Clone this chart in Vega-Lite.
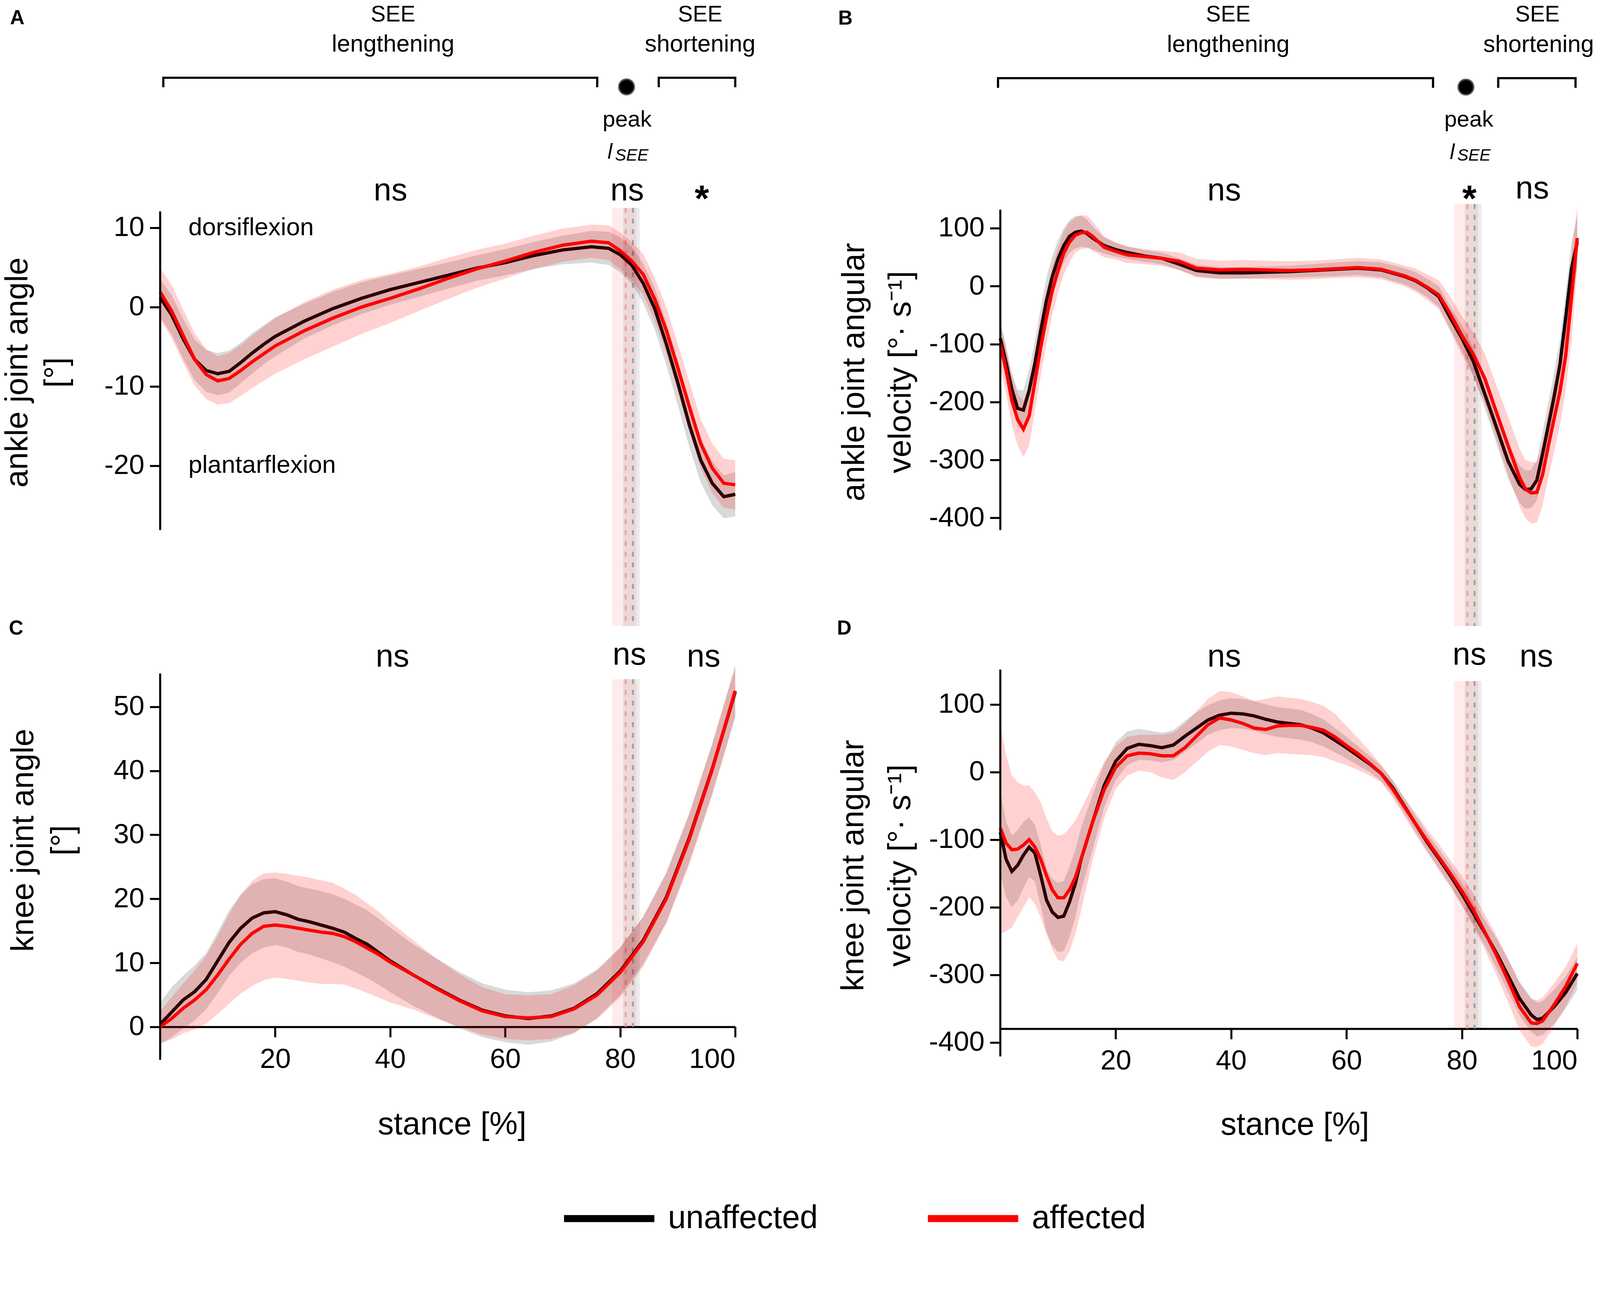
{
"$schema": "https://vega.github.io/schema/vega-lite/v6.json",
"padding": {"left": 4, "top": 0, "right": 0, "bottom": 0},
"background": "white",
"bounds": "flush",
"columns": 2,
"spacing": {"row": 0, "column": 677.8},
"datasets": {
"peaks": [{"g":"affected","lo":78.6,"hi":82.8,"m":80.95},{"g":"unaffected","lo":80.5,"hi":83.4,"m":82.2}],
"br": [
{"p":"A","b":"len","i":0,"x":0.55,"y":27.7},{"p":"A","b":"len","i":1,"x":0.55,"y":28.9},{"p":"A","b":"len","i":2,"x":76.0,"y":28.9},{"p":"A","b":"len","i":3,"x":76.0,"y":27.7},
{"p":"A","b":"sho","i":0,"x":86.7,"y":27.7},{"p":"A","b":"sho","i":1,"x":86.7,"y":28.9},{"p":"A","b":"sho","i":2,"x":100,"y":28.9},{"p":"A","b":"sho","i":3,"x":100,"y":27.7},
{"p":"B","b":"len","i":0,"x":-0.4,"y":342.3},{"p":"B","b":"len","i":1,"x":-0.4,"y":359},{"p":"B","b":"len","i":2,"x":75.0,"y":359},{"p":"B","b":"len","i":3,"x":75.0,"y":342.3},
{"p":"B","b":"sho","i":0,"x":86.3,"y":342.3},{"p":"B","b":"sho","i":1,"x":86.3,"y":359},{"p":"B","b":"sho","i":2,"x":99.7,"y":359},{"p":"B","b":"sho","i":3,"x":99.7,"y":342.3}
],
"t": [
{"p":"A","k":"see","t":"SEE","x":40.5,"y":36.0},
{"p":"A","k":"phase","t":"lengthening","x":40.5,"y":32.2},
{"p":"A","k":"see","t":"SEE","x":93.9,"y":36.0},
{"p":"A","k":"phase","t":"shortening","x":93.9,"y":32.2},
{"p":"A","k":"peak","t":"peak","x":81.2,"y":22.76},
{"p":"A","k":"l","t":"l","x":77.8,"y":18.7},
{"p":"A","k":"sub","t":"SEE","x":79.1,"y":18.46},
{"p":"A","k":"ns","t":"ns","x":40.05,"y":13.46},
{"p":"A","k":"ns","t":"ns","x":81.2,"y":13.46},
{"p":"A","k":"star","t":"*","x":94.2,"y":12.1},
{"p":"A","k":"dir","t":"dorsiflexion","x":4.9,"y":9.07},
{"p":"A","k":"dir","t":"plantarflexion","x":4.9,"y":-20.9},
{"p":"A","k":"letter","t":"A","x":-26.1,"y":35.65},
{"p":"A","k":"dot","t":"","x":81.1,"y":27.75},
{"p":"B","k":"see","t":"SEE","x":39.5,"y":456.8},
{"p":"B","k":"phase","t":"lengthening","x":39.5,"y":404.3},
{"p":"B","k":"see","t":"SEE","x":93.1,"y":456.8},
{"p":"B","k":"phase","t":"shortening","x":93.3,"y":404.3},
{"p":"B","k":"peak","t":"peak","x":81.2,"y":275.2},
{"p":"B","k":"l","t":"l","x":77.9,"y":219.6},
{"p":"B","k":"sub","t":"SEE","x":79.2,"y":216.4},
{"p":"B","k":"ns","t":"ns","x":38.8,"y":148.0},
{"p":"B","k":"star","t":"*","x":81.3,"y":130.0},
{"p":"B","k":"ns","t":"ns","x":92.2,"y":151.2},
{"p":"B","k":"letter","t":"B","x":-28.1,"y":451.7},
{"p":"B","k":"dot","t":"","x":80.7,"y":343.6},
{"p":"C","k":"ns","t":"ns","x":40.4,"y":56.25},
{"p":"C","k":"ns","t":"ns","x":81.6,"y":56.6},
{"p":"C","k":"ns","t":"ns","x":94.5,"y":56.25},
{"p":"C","k":"letter","t":"C","x":-26.3,"y":61.25},
{"p":"D","k":"ns","t":"ns","x":38.8,"y":155.7},
{"p":"D","k":"ns","t":"ns","x":81.3,"y":159.0},
{"p":"D","k":"ns","t":"ns","x":92.9,"y":155.7},
{"p":"D","k":"letter","t":"D","x":-28.3,"y":203}
],
"c": [
{"p":"A","g":"unaffected","x":0,"m":1.2,"lo":-1.3,"hi":3.5},
{"p":"A","g":"unaffected","x":2,"m":-1.0,"lo":-3.4,"hi":1.5},
{"p":"A","g":"unaffected","x":4,"m":-4.0,"lo":-6.5,"hi":-1.5},
{"p":"A","g":"unaffected","x":6,"m":-6.6,"lo":-9.2,"hi":-4.1},
{"p":"A","g":"unaffected","x":8,"m":-8.0,"lo":-10.7,"hi":-5.4},
{"p":"A","g":"unaffected","x":10,"m":-8.4,"lo":-11.1,"hi":-5.8},
{"p":"A","g":"unaffected","x":12,"m":-8.1,"lo":-10.8,"hi":-5.5},
{"p":"A","g":"unaffected","x":14,"m":-7.0,"lo":-9.6,"hi":-4.5},
{"p":"A","g":"unaffected","x":16,"m":-5.8,"lo":-8.4,"hi":-3.3},
{"p":"A","g":"unaffected","x":18,"m":-4.7,"lo":-7.2,"hi":-2.3},
{"p":"A","g":"unaffected","x":20,"m":-3.7,"lo":-6.2,"hi":-1.3},
{"p":"A","g":"unaffected","x":25,"m":-1.8,"lo":-4.0,"hi":0.4},
{"p":"A","g":"unaffected","x":30,"m":-0.2,"lo":-2.3,"hi":1.9},
{"p":"A","g":"unaffected","x":35,"m":1.1,"lo":-0.9,"hi":3.1},
{"p":"A","g":"unaffected","x":40,"m":2.2,"lo":0.3,"hi":4.0},
{"p":"A","g":"unaffected","x":45,"m":3.1,"lo":1.3,"hi":4.8},
{"p":"A","g":"unaffected","x":50,"m":4.0,"lo":2.3,"hi":5.6},
{"p":"A","g":"unaffected","x":55,"m":4.9,"lo":3.3,"hi":6.5},
{"p":"A","g":"unaffected","x":60,"m":5.6,"lo":4.0,"hi":7.3},
{"p":"A","g":"unaffected","x":65,"m":6.5,"lo":4.8,"hi":8.2},
{"p":"A","g":"unaffected","x":70,"m":7.2,"lo":5.4,"hi":9.0},
{"p":"A","g":"unaffected","x":75,"m":7.6,"lo":5.6,"hi":9.6},
{"p":"A","g":"unaffected","x":78,"m":7.4,"lo":5.3,"hi":9.5},
{"p":"A","g":"unaffected","x":80,"m":6.6,"lo":4.4,"hi":8.8},
{"p":"A","g":"unaffected","x":82,"m":5.3,"lo":3.0,"hi":7.6},
{"p":"A","g":"unaffected","x":84,"m":3.0,"lo":0.5,"hi":5.5},
{"p":"A","g":"unaffected","x":86,"m":-0.2,"lo":-2.8,"hi":2.4},
{"p":"A","g":"unaffected","x":88,"m":-4.6,"lo":-7.3,"hi":-1.9},
{"p":"A","g":"unaffected","x":90,"m":-9.5,"lo":-12.3,"hi":-6.7},
{"p":"A","g":"unaffected","x":92,"m":-14.8,"lo":-17.6,"hi":-12.0},
{"p":"A","g":"unaffected","x":94,"m":-19.3,"lo":-22.1,"hi":-16.5},
{"p":"A","g":"unaffected","x":96,"m":-22.2,"lo":-25.0,"hi":-19.4},
{"p":"A","g":"unaffected","x":98,"m":-23.9,"lo":-26.6,"hi":-21.2},
{"p":"A","g":"unaffected","x":100,"m":-23.6,"lo":-26.4,"hi":-20.8},
{"p":"A","g":"affected","x":0,"m":1.9,"lo":-1.6,"hi":4.9},
{"p":"A","g":"affected","x":2,"m":-0.5,"lo":-3.9,"hi":2.8},
{"p":"A","g":"affected","x":4,"m":-3.6,"lo":-7.0,"hi":-0.3},
{"p":"A","g":"affected","x":6,"m":-6.6,"lo":-9.9,"hi":-3.3},
{"p":"A","g":"affected","x":8,"m":-8.5,"lo":-11.6,"hi":-5.3},
{"p":"A","g":"affected","x":10,"m":-9.3,"lo":-12.3,"hi":-6.2},
{"p":"A","g":"affected","x":12,"m":-9.0,"lo":-12.1,"hi":-5.8},
{"p":"A","g":"affected","x":14,"m":-8.0,"lo":-11.2,"hi":-4.8},
{"p":"A","g":"affected","x":16,"m":-6.9,"lo":-10.2,"hi":-3.6},
{"p":"A","g":"affected","x":18,"m":-5.9,"lo":-9.3,"hi":-2.5},
{"p":"A","g":"affected","x":20,"m":-4.9,"lo":-8.4,"hi":-1.4},
{"p":"A","g":"affected","x":25,"m":-3.0,"lo":-6.6,"hi":0.6},
{"p":"A","g":"affected","x":30,"m":-1.4,"lo":-5.0,"hi":2.2},
{"p":"A","g":"affected","x":35,"m":0.0,"lo":-3.4,"hi":3.4},
{"p":"A","g":"affected","x":40,"m":1.1,"lo":-2.0,"hi":4.2},
{"p":"A","g":"affected","x":45,"m":2.3,"lo":-0.5,"hi":5.1},
{"p":"A","g":"affected","x":50,"m":3.6,"lo":1.0,"hi":6.2},
{"p":"A","g":"affected","x":55,"m":4.8,"lo":2.4,"hi":7.2},
{"p":"A","g":"affected","x":60,"m":5.8,"lo":3.6,"hi":8.0},
{"p":"A","g":"affected","x":65,"m":6.9,"lo":4.8,"hi":9.0},
{"p":"A","g":"affected","x":70,"m":7.8,"lo":5.7,"hi":9.9},
{"p":"A","g":"affected","x":75,"m":8.3,"lo":6.2,"hi":10.4},
{"p":"A","g":"affected","x":78,"m":8.1,"lo":5.9,"hi":10.3},
{"p":"A","g":"affected","x":80,"m":7.1,"lo":4.8,"hi":9.4},
{"p":"A","g":"affected","x":82,"m":5.8,"lo":3.4,"hi":8.2},
{"p":"A","g":"affected","x":84,"m":4.1,"lo":1.5,"hi":6.7},
{"p":"A","g":"affected","x":86,"m":1.0,"lo":-1.7,"hi":3.7},
{"p":"A","g":"affected","x":88,"m":-2.9,"lo":-5.8,"hi":0.0},
{"p":"A","g":"affected","x":90,"m":-7.6,"lo":-10.6,"hi":-4.6},
{"p":"A","g":"affected","x":92,"m":-12.5,"lo":-15.6,"hi":-9.4},
{"p":"A","g":"affected","x":94,"m":-17.2,"lo":-20.3,"hi":-14.1},
{"p":"A","g":"affected","x":96,"m":-20.3,"lo":-23.4,"hi":-17.2},
{"p":"A","g":"affected","x":98,"m":-22.2,"lo":-25.3,"hi":-19.1},
{"p":"A","g":"affected","x":100,"m":-22.4,"lo":-25.5,"hi":-19.3},
{"p":"B","g":"unaffected","x":0,"m":-90,"lo":-118,"hi":-62},
{"p":"B","g":"unaffected","x":1,"m":-132,"lo":-160,"hi":-104},
{"p":"B","g":"unaffected","x":2,"m":-178,"lo":-206,"hi":-150},
{"p":"B","g":"unaffected","x":3,"m":-211,"lo":-243,"hi":-179},
{"p":"B","g":"unaffected","x":4,"m":-214,"lo":-248,"hi":-180},
{"p":"B","g":"unaffected","x":5,"m":-180,"lo":-216,"hi":-144},
{"p":"B","g":"unaffected","x":6,"m":-133,"lo":-171,"hi":-95},
{"p":"B","g":"unaffected","x":7,"m":-77,"lo":-117,"hi":-37},
{"p":"B","g":"unaffected","x":8,"m":-25,"lo":-65,"hi":15},
{"p":"B","g":"unaffected","x":9,"m":16,"lo":-20,"hi":52},
{"p":"B","g":"unaffected","x":10,"m":47,"lo":15,"hi":79},
{"p":"B","g":"unaffected","x":11,"m":70,"lo":40,"hi":100},
{"p":"B","g":"unaffected","x":12,"m":86,"lo":58,"hi":114},
{"p":"B","g":"unaffected","x":13,"m":93,"lo":65,"hi":121},
{"p":"B","g":"unaffected","x":14,"m":95,"lo":68,"hi":122},
{"p":"B","g":"unaffected","x":15,"m":91,"lo":67,"hi":115},
{"p":"B","g":"unaffected","x":16,"m":83,"lo":63,"hi":103},
{"p":"B","g":"unaffected","x":18,"m":70,"lo":56,"hi":84},
{"p":"B","g":"unaffected","x":20,"m":63,"lo":51,"hi":75},
{"p":"B","g":"unaffected","x":22,"m":58,"lo":47,"hi":69},
{"p":"B","g":"unaffected","x":25,"m":52,"lo":42,"hi":62},
{"p":"B","g":"unaffected","x":28,"m":48,"lo":38,"hi":58},
{"p":"B","g":"unaffected","x":31,"m":38,"lo":28,"hi":48},
{"p":"B","g":"unaffected","x":34,"m":27,"lo":17,"hi":37},
{"p":"B","g":"unaffected","x":38,"m":23,"lo":13,"hi":33},
{"p":"B","g":"unaffected","x":42,"m":23,"lo":13,"hi":33},
{"p":"B","g":"unaffected","x":46,"m":24,"lo":14,"hi":34},
{"p":"B","g":"unaffected","x":50,"m":25,"lo":15,"hi":35},
{"p":"B","g":"unaffected","x":54,"m":27,"lo":16,"hi":38},
{"p":"B","g":"unaffected","x":58,"m":29,"lo":17,"hi":41},
{"p":"B","g":"unaffected","x":62,"m":31,"lo":19,"hi":43},
{"p":"B","g":"unaffected","x":66,"m":28,"lo":15,"hi":41},
{"p":"B","g":"unaffected","x":70,"m":17,"lo":3,"hi":31},
{"p":"B","g":"unaffected","x":72,"m":9,"lo":-6,"hi":24},
{"p":"B","g":"unaffected","x":74,"m":-3,"lo":-19,"hi":13},
{"p":"B","g":"unaffected","x":76,"m":-18,"lo":-36,"hi":0},
{"p":"B","g":"unaffected","x":78,"m":-55,"lo":-75,"hi":-35},
{"p":"B","g":"unaffected","x":80,"m":-90,"lo":-112,"hi":-68},
{"p":"B","g":"unaffected","x":82,"m":-130,"lo":-154,"hi":-106},
{"p":"B","g":"unaffected","x":84,"m":-187,"lo":-212,"hi":-162},
{"p":"B","g":"unaffected","x":86,"m":-244,"lo":-272,"hi":-216},
{"p":"B","g":"unaffected","x":88,"m":-302,"lo":-332,"hi":-272},
{"p":"B","g":"unaffected","x":90,"m":-342,"lo":-374,"hi":-310},
{"p":"B","g":"unaffected","x":91,"m":-351,"lo":-384,"hi":-318},
{"p":"B","g":"unaffected","x":92,"m":-350,"lo":-383,"hi":-317},
{"p":"B","g":"unaffected","x":93,"m":-335,"lo":-370,"hi":-300},
{"p":"B","g":"unaffected","x":94,"m":-289,"lo":-327,"hi":-251},
{"p":"B","g":"unaffected","x":95,"m":-240,"lo":-280,"hi":-200},
{"p":"B","g":"unaffected","x":96,"m":-190,"lo":-232,"hi":-148},
{"p":"B","g":"unaffected","x":97,"m":-135,"lo":-178,"hi":-92},
{"p":"B","g":"unaffected","x":98,"m":-55,"lo":-100,"hi":-10},
{"p":"B","g":"unaffected","x":99,"m":30,"lo":-15,"hi":75},
{"p":"B","g":"unaffected","x":100,"m":76,"lo":30,"hi":122},
{"p":"B","g":"affected","x":0,"m":-100,"lo":-138,"hi":-62},
{"p":"B","g":"affected","x":1,"m":-145,"lo":-185,"hi":-105},
{"p":"B","g":"affected","x":2,"m":-198,"lo":-240,"hi":-156},
{"p":"B","g":"affected","x":3,"m":-230,"lo":-275,"hi":-185},
{"p":"B","g":"affected","x":4,"m":-247,"lo":-295,"hi":-199},
{"p":"B","g":"affected","x":5,"m":-224,"lo":-275,"hi":-173},
{"p":"B","g":"affected","x":6,"m":-165,"lo":-215,"hi":-115},
{"p":"B","g":"affected","x":7,"m":-106,"lo":-155,"hi":-57},
{"p":"B","g":"affected","x":8,"m":-54,"lo":-100,"hi":-8},
{"p":"B","g":"affected","x":9,"m":-8,"lo":-50,"hi":34},
{"p":"B","g":"affected","x":10,"m":27,"lo":-12,"hi":66},
{"p":"B","g":"affected","x":11,"m":57,"lo":20,"hi":94},
{"p":"B","g":"affected","x":12,"m":76,"lo":42,"hi":110},
{"p":"B","g":"affected","x":13,"m":88,"lo":58,"hi":118},
{"p":"B","g":"affected","x":14,"m":92,"lo":64,"hi":122},
{"p":"B","g":"affected","x":15,"m":93,"lo":66,"hi":122},
{"p":"B","g":"affected","x":16,"m":86,"lo":62,"hi":112},
{"p":"B","g":"affected","x":18,"m":67,"lo":50,"hi":86},
{"p":"B","g":"affected","x":20,"m":60,"lo":46,"hi":75},
{"p":"B","g":"affected","x":22,"m":54,"lo":40,"hi":68},
{"p":"B","g":"affected","x":25,"m":51,"lo":38,"hi":64},
{"p":"B","g":"affected","x":28,"m":48,"lo":35,"hi":61},
{"p":"B","g":"affected","x":31,"m":43,"lo":28,"hi":58},
{"p":"B","g":"affected","x":34,"m":31,"lo":15,"hi":47},
{"p":"B","g":"affected","x":38,"m":28,"lo":12,"hi":44},
{"p":"B","g":"affected","x":42,"m":29,"lo":13,"hi":45},
{"p":"B","g":"affected","x":46,"m":28,"lo":12,"hi":44},
{"p":"B","g":"affected","x":50,"m":27,"lo":11,"hi":43},
{"p":"B","g":"affected","x":54,"m":28,"lo":12,"hi":44},
{"p":"B","g":"affected","x":58,"m":30,"lo":14,"hi":46},
{"p":"B","g":"affected","x":62,"m":32,"lo":15,"hi":49},
{"p":"B","g":"affected","x":66,"m":29,"lo":12,"hi":46},
{"p":"B","g":"affected","x":70,"m":18,"lo":0,"hi":36},
{"p":"B","g":"affected","x":72,"m":10,"lo":-10,"hi":30},
{"p":"B","g":"affected","x":74,"m":-2,"lo":-24,"hi":20},
{"p":"B","g":"affected","x":76,"m":-15,"lo":-40,"hi":10},
{"p":"B","g":"affected","x":78,"m":-48,"lo":-78,"hi":-18},
{"p":"B","g":"affected","x":80,"m":-85,"lo":-118,"hi":-52},
{"p":"B","g":"affected","x":82,"m":-118,"lo":-156,"hi":-80},
{"p":"B","g":"affected","x":84,"m":-160,"lo":-203,"hi":-117},
{"p":"B","g":"affected","x":86,"m":-218,"lo":-264,"hi":-172},
{"p":"B","g":"affected","x":88,"m":-275,"lo":-325,"hi":-225},
{"p":"B","g":"affected","x":90,"m":-330,"lo":-380,"hi":-280},
{"p":"B","g":"affected","x":91,"m":-350,"lo":-400,"hi":-300},
{"p":"B","g":"affected","x":92,"m":-357,"lo":-410,"hi":-304},
{"p":"B","g":"affected","x":93,"m":-356,"lo":-408,"hi":-304},
{"p":"B","g":"affected","x":94,"m":-325,"lo":-378,"hi":-272},
{"p":"B","g":"affected","x":95,"m":-275,"lo":-330,"hi":-220},
{"p":"B","g":"affected","x":96,"m":-228,"lo":-285,"hi":-171},
{"p":"B","g":"affected","x":97,"m":-182,"lo":-240,"hi":-124},
{"p":"B","g":"affected","x":98,"m":-120,"lo":-180,"hi":-60},
{"p":"B","g":"affected","x":99,"m":-20,"lo":-95,"hi":55},
{"p":"B","g":"affected","x":100,"m":83,"lo":30,"hi":136},
{"p":"C","g":"unaffected","x":0,"m":0.4,"lo":-2.8,"hi":3.8},
{"p":"C","g":"unaffected","x":2,"m":2.3,"lo":-1.6,"hi":6.2},
{"p":"C","g":"unaffected","x":4,"m":4.2,"lo":-0.3,"hi":8.0},
{"p":"C","g":"unaffected","x":6,"m":5.5,"lo":1.0,"hi":9.6},
{"p":"C","g":"unaffected","x":8,"m":7.4,"lo":2.8,"hi":11.5},
{"p":"C","g":"unaffected","x":10,"m":10.3,"lo":5.3,"hi":14.8},
{"p":"C","g":"unaffected","x":12,"m":13.2,"lo":8.0,"hi":18.2},
{"p":"C","g":"unaffected","x":14,"m":15.4,"lo":10.0,"hi":20.6},
{"p":"C","g":"unaffected","x":16,"m":17.0,"lo":11.5,"hi":22.3},
{"p":"C","g":"unaffected","x":18,"m":17.8,"lo":12.4,"hi":23.1},
{"p":"C","g":"unaffected","x":20,"m":18.0,"lo":12.8,"hi":23.2},
{"p":"C","g":"unaffected","x":22,"m":17.5,"lo":12.4,"hi":22.7},
{"p":"C","g":"unaffected","x":24,"m":16.8,"lo":11.7,"hi":22.0},
{"p":"C","g":"unaffected","x":26,"m":16.4,"lo":11.3,"hi":21.6},
{"p":"C","g":"unaffected","x":28,"m":15.9,"lo":10.7,"hi":21.2},
{"p":"C","g":"unaffected","x":30,"m":15.4,"lo":10.1,"hi":20.7},
{"p":"C","g":"unaffected","x":32,"m":14.8,"lo":9.4,"hi":20.0},
{"p":"C","g":"unaffected","x":34,"m":13.8,"lo":8.5,"hi":19.1},
{"p":"C","g":"unaffected","x":36,"m":12.9,"lo":7.6,"hi":18.2},
{"p":"C","g":"unaffected","x":38,"m":11.6,"lo":6.6,"hi":16.9},
{"p":"C","g":"unaffected","x":40,"m":10.3,"lo":5.4,"hi":15.5},
{"p":"C","g":"unaffected","x":44,"m":8.1,"lo":3.3,"hi":12.9},
{"p":"C","g":"unaffected","x":48,"m":6.1,"lo":1.5,"hi":10.7},
{"p":"C","g":"unaffected","x":52,"m":4.2,"lo":-0.2,"hi":8.6},
{"p":"C","g":"unaffected","x":56,"m":2.6,"lo":-1.6,"hi":6.8},
{"p":"C","g":"unaffected","x":60,"m":1.7,"lo":-2.4,"hi":5.8},
{"p":"C","g":"unaffected","x":64,"m":1.3,"lo":-2.8,"hi":5.4},
{"p":"C","g":"unaffected","x":68,"m":1.7,"lo":-2.3,"hi":5.7},
{"p":"C","g":"unaffected","x":72,"m":2.9,"lo":-1.0,"hi":6.8},
{"p":"C","g":"unaffected","x":76,"m":5.2,"lo":1.4,"hi":9.0},
{"p":"C","g":"unaffected","x":80,"m":8.7,"lo":5.0,"hi":12.4},
{"p":"C","g":"unaffected","x":84,"m":13.5,"lo":9.8,"hi":17.2},
{"p":"C","g":"unaffected","x":88,"m":20.2,"lo":16.3,"hi":24.1},
{"p":"C","g":"unaffected","x":92,"m":29.5,"lo":25.7,"hi":33.3},
{"p":"C","g":"unaffected","x":96,"m":40.3,"lo":36.4,"hi":44.2},
{"p":"C","g":"unaffected","x":100,"m":52.3,"lo":48.4,"hi":56.2},
{"p":"C","g":"affected","x":0,"m":0.0,"lo":-2.5,"hi":2.5},
{"p":"C","g":"affected","x":2,"m":1.3,"lo":-2.0,"hi":4.6},
{"p":"C","g":"affected","x":4,"m":2.9,"lo":-1.0,"hi":6.8},
{"p":"C","g":"affected","x":6,"m":4.2,"lo":-0.4,"hi":8.8},
{"p":"C","g":"affected","x":8,"m":5.8,"lo":0.5,"hi":11.1},
{"p":"C","g":"affected","x":10,"m":8.1,"lo":2.0,"hi":14.2},
{"p":"C","g":"affected","x":12,"m":10.6,"lo":3.6,"hi":17.6},
{"p":"C","g":"affected","x":14,"m":12.9,"lo":5.2,"hi":20.6},
{"p":"C","g":"affected","x":16,"m":14.6,"lo":6.4,"hi":22.8},
{"p":"C","g":"affected","x":18,"m":15.7,"lo":7.3,"hi":24.0},
{"p":"C","g":"affected","x":20,"m":15.9,"lo":7.7,"hi":24.1},
{"p":"C","g":"affected","x":22,"m":15.7,"lo":7.5,"hi":23.9},
{"p":"C","g":"affected","x":24,"m":15.4,"lo":7.2,"hi":23.6},
{"p":"C","g":"affected","x":26,"m":15.1,"lo":6.9,"hi":23.3},
{"p":"C","g":"affected","x":28,"m":14.8,"lo":6.7,"hi":22.9},
{"p":"C","g":"affected","x":30,"m":14.6,"lo":6.7,"hi":22.5},
{"p":"C","g":"affected","x":32,"m":14.1,"lo":6.6,"hi":21.6},
{"p":"C","g":"affected","x":34,"m":13.3,"lo":6.0,"hi":20.6},
{"p":"C","g":"affected","x":36,"m":12.3,"lo":5.3,"hi":19.3},
{"p":"C","g":"affected","x":38,"m":11.3,"lo":4.6,"hi":18.0},
{"p":"C","g":"affected","x":40,"m":10.1,"lo":3.8,"hi":16.4},
{"p":"C","g":"affected","x":44,"m":8.1,"lo":2.7,"hi":13.5},
{"p":"C","g":"affected","x":48,"m":6.0,"lo":1.3,"hi":10.7},
{"p":"C","g":"affected","x":52,"m":4.1,"lo":0.0,"hi":8.2},
{"p":"C","g":"affected","x":56,"m":2.5,"lo":-1.2,"hi":6.2},
{"p":"C","g":"affected","x":60,"m":1.6,"lo":-1.9,"hi":5.1},
{"p":"C","g":"affected","x":64,"m":1.4,"lo":-2.1,"hi":4.9},
{"p":"C","g":"affected","x":68,"m":1.6,"lo":-1.9,"hi":5.1},
{"p":"C","g":"affected","x":72,"m":2.8,"lo":-0.9,"hi":6.5},
{"p":"C","g":"affected","x":76,"m":5.0,"lo":1.2,"hi":8.8},
{"p":"C","g":"affected","x":80,"m":8.5,"lo":4.6,"hi":12.4},
{"p":"C","g":"affected","x":84,"m":13.3,"lo":9.4,"hi":17.2},
{"p":"C","g":"affected","x":88,"m":20.0,"lo":16.1,"hi":23.9},
{"p":"C","g":"affected","x":92,"m":29.3,"lo":25.3,"hi":33.3},
{"p":"C","g":"affected","x":96,"m":40.2,"lo":36.2,"hi":44.2},
{"p":"C","g":"affected","x":100,"m":52.5,"lo":48.5,"hi":56.5},
{"p":"D","g":"unaffected","x":0,"m":-89,"lo":-150,"hi":-28},
{"p":"D","g":"unaffected","x":1,"m":-129,"lo":-185,"hi":-73},
{"p":"D","g":"unaffected","x":2,"m":-147,"lo":-200,"hi":-94},
{"p":"D","g":"unaffected","x":3,"m":-138,"lo":-190,"hi":-86},
{"p":"D","g":"unaffected","x":4,"m":-123,"lo":-172,"hi":-74},
{"p":"D","g":"unaffected","x":5,"m":-111,"lo":-155,"hi":-67},
{"p":"D","g":"unaffected","x":6,"m":-120,"lo":-162,"hi":-78},
{"p":"D","g":"unaffected","x":7,"m":-153,"lo":-198,"hi":-108},
{"p":"D","g":"unaffected","x":8,"m":-189,"lo":-236,"hi":-142},
{"p":"D","g":"unaffected","x":9,"m":-207,"lo":-256,"hi":-158},
{"p":"D","g":"unaffected","x":10,"m":-215,"lo":-266,"hi":-164},
{"p":"D","g":"unaffected","x":11,"m":-213,"lo":-265,"hi":-161},
{"p":"D","g":"unaffected","x":12,"m":-192,"lo":-244,"hi":-140},
{"p":"D","g":"unaffected","x":13,"m":-165,"lo":-215,"hi":-115},
{"p":"D","g":"unaffected","x":14,"m":-129,"lo":-176,"hi":-82},
{"p":"D","g":"unaffected","x":16,"m":-74,"lo":-114,"hi":-34},
{"p":"D","g":"unaffected","x":18,"m":-20,"lo":-52,"hi":12},
{"p":"D","g":"unaffected","x":20,"m":16,"lo":-12,"hi":44},
{"p":"D","g":"unaffected","x":22,"m":35,"lo":10,"hi":60},
{"p":"D","g":"unaffected","x":24,"m":41,"lo":18,"hi":64},
{"p":"D","g":"unaffected","x":26,"m":39,"lo":17,"hi":61},
{"p":"D","g":"unaffected","x":28,"m":36,"lo":14,"hi":58},
{"p":"D","g":"unaffected","x":30,"m":40,"lo":18,"hi":62},
{"p":"D","g":"unaffected","x":32,"m":53,"lo":30,"hi":76},
{"p":"D","g":"unaffected","x":34,"m":65,"lo":42,"hi":88},
{"p":"D","g":"unaffected","x":36,"m":77,"lo":55,"hi":99},
{"p":"D","g":"unaffected","x":38,"m":84,"lo":62,"hi":106},
{"p":"D","g":"unaffected","x":40,"m":87,"lo":65,"hi":109},
{"p":"D","g":"unaffected","x":42,"m":86,"lo":64,"hi":108},
{"p":"D","g":"unaffected","x":44,"m":83,"lo":61,"hi":105},
{"p":"D","g":"unaffected","x":46,"m":78,"lo":56,"hi":100},
{"p":"D","g":"unaffected","x":48,"m":74,"lo":52,"hi":96},
{"p":"D","g":"unaffected","x":50,"m":72,"lo":50,"hi":94},
{"p":"D","g":"unaffected","x":52,"m":70,"lo":48,"hi":92},
{"p":"D","g":"unaffected","x":54,"m":65,"lo":44,"hi":86},
{"p":"D","g":"unaffected","x":56,"m":58,"lo":38,"hi":78},
{"p":"D","g":"unaffected","x":58,"m":47,"lo":29,"hi":65},
{"p":"D","g":"unaffected","x":60,"m":36,"lo":20,"hi":52},
{"p":"D","g":"unaffected","x":62,"m":24,"lo":10,"hi":38},
{"p":"D","g":"unaffected","x":64,"m":12,"lo":0,"hi":24},
{"p":"D","g":"unaffected","x":66,"m":-2,"lo":-13,"hi":9},
{"p":"D","g":"unaffected","x":68,"m":-23,"lo":-34,"hi":-12},
{"p":"D","g":"unaffected","x":70,"m":-50,"lo":-61,"hi":-39},
{"p":"D","g":"unaffected","x":72,"m":-77,"lo":-89,"hi":-65},
{"p":"D","g":"unaffected","x":74,"m":-104,"lo":-117,"hi":-91},
{"p":"D","g":"unaffected","x":76,"m":-128,"lo":-142,"hi":-114},
{"p":"D","g":"unaffected","x":78,"m":-153,"lo":-168,"hi":-138},
{"p":"D","g":"unaffected","x":80,"m":-180,"lo":-196,"hi":-164},
{"p":"D","g":"unaffected","x":82,"m":-209,"lo":-226,"hi":-192},
{"p":"D","g":"unaffected","x":84,"m":-238,"lo":-257,"hi":-219},
{"p":"D","g":"unaffected","x":86,"m":-268,"lo":-290,"hi":-246},
{"p":"D","g":"unaffected","x":88,"m":-301,"lo":-325,"hi":-277},
{"p":"D","g":"unaffected","x":90,"m":-335,"lo":-360,"hi":-310},
{"p":"D","g":"unaffected","x":92,"m":-359,"lo":-384,"hi":-334},
{"p":"D","g":"unaffected","x":93,"m":-366,"lo":-391,"hi":-341},
{"p":"D","g":"unaffected","x":94,"m":-364,"lo":-389,"hi":-339},
{"p":"D","g":"unaffected","x":96,"m":-347,"lo":-372,"hi":-322},
{"p":"D","g":"unaffected","x":98,"m":-326,"lo":-350,"hi":-302},
{"p":"D","g":"unaffected","x":100,"m":-298,"lo":-322,"hi":-274},
{"p":"D","g":"affected","x":0,"m":-83,"lo":-240,"hi":70},
{"p":"D","g":"affected","x":1,"m":-105,"lo":-235,"hi":25},
{"p":"D","g":"affected","x":2,"m":-115,"lo":-230,"hi":-5},
{"p":"D","g":"affected","x":3,"m":-114,"lo":-215,"hi":-15},
{"p":"D","g":"affected","x":4,"m":-108,"lo":-200,"hi":-20},
{"p":"D","g":"affected","x":5,"m":-100,"lo":-185,"hi":-20},
{"p":"D","g":"affected","x":6,"m":-111,"lo":-195,"hi":-30},
{"p":"D","g":"affected","x":7,"m":-129,"lo":-215,"hi":-45},
{"p":"D","g":"affected","x":8,"m":-153,"lo":-240,"hi":-68},
{"p":"D","g":"affected","x":9,"m":-174,"lo":-262,"hi":-88},
{"p":"D","g":"affected","x":10,"m":-186,"lo":-278,"hi":-94},
{"p":"D","g":"affected","x":11,"m":-186,"lo":-280,"hi":-92},
{"p":"D","g":"affected","x":12,"m":-174,"lo":-265,"hi":-83},
{"p":"D","g":"affected","x":13,"m":-156,"lo":-240,"hi":-72},
{"p":"D","g":"affected","x":14,"m":-129,"lo":-205,"hi":-55},
{"p":"D","g":"affected","x":16,"m":-74,"lo":-130,"hi":-20},
{"p":"D","g":"affected","x":18,"m":-26,"lo":-68,"hi":15},
{"p":"D","g":"affected","x":20,"m":7,"lo":-25,"hi":38},
{"p":"D","g":"affected","x":22,"m":24,"lo":-5,"hi":52},
{"p":"D","g":"affected","x":24,"m":28,"lo":2,"hi":55},
{"p":"D","g":"affected","x":26,"m":27,"lo":0,"hi":55},
{"p":"D","g":"affected","x":28,"m":24,"lo":-8,"hi":55},
{"p":"D","g":"affected","x":30,"m":24,"lo":-12,"hi":58},
{"p":"D","g":"affected","x":32,"m":36,"lo":0,"hi":72},
{"p":"D","g":"affected","x":34,"m":53,"lo":15,"hi":90},
{"p":"D","g":"affected","x":36,"m":70,"lo":30,"hi":108},
{"p":"D","g":"affected","x":38,"m":80,"lo":40,"hi":120},
{"p":"D","g":"affected","x":40,"m":77,"lo":38,"hi":118},
{"p":"D","g":"affected","x":42,"m":72,"lo":33,"hi":112},
{"p":"D","g":"affected","x":44,"m":65,"lo":28,"hi":105},
{"p":"D","g":"affected","x":46,"m":63,"lo":25,"hi":108},
{"p":"D","g":"affected","x":48,"m":68,"lo":28,"hi":112},
{"p":"D","g":"affected","x":50,"m":69,"lo":27,"hi":110},
{"p":"D","g":"affected","x":52,"m":69,"lo":26,"hi":108},
{"p":"D","g":"affected","x":54,"m":66,"lo":25,"hi":104},
{"p":"D","g":"affected","x":56,"m":62,"lo":22,"hi":98},
{"p":"D","g":"affected","x":58,"m":52,"lo":16,"hi":86},
{"p":"D","g":"affected","x":60,"m":39,"lo":10,"hi":68},
{"p":"D","g":"affected","x":62,"m":27,"lo":3,"hi":50},
{"p":"D","g":"affected","x":64,"m":13,"lo":-5,"hi":31},
{"p":"D","g":"affected","x":66,"m":-2,"lo":-15,"hi":11},
{"p":"D","g":"affected","x":68,"m":-25,"lo":-38,"hi":-12},
{"p":"D","g":"affected","x":70,"m":-51,"lo":-65,"hi":-37},
{"p":"D","g":"affected","x":72,"m":-77,"lo":-93,"hi":-61},
{"p":"D","g":"affected","x":74,"m":-102,"lo":-119,"hi":-85},
{"p":"D","g":"affected","x":76,"m":-126,"lo":-145,"hi":-107},
{"p":"D","g":"affected","x":78,"m":-150,"lo":-170,"hi":-130},
{"p":"D","g":"affected","x":80,"m":-176,"lo":-198,"hi":-154},
{"p":"D","g":"affected","x":82,"m":-204,"lo":-228,"hi":-180},
{"p":"D","g":"affected","x":84,"m":-237,"lo":-263,"hi":-211},
{"p":"D","g":"affected","x":86,"m":-271,"lo":-300,"hi":-242},
{"p":"D","g":"affected","x":88,"m":-308,"lo":-340,"hi":-276},
{"p":"D","g":"affected","x":90,"m":-347,"lo":-382,"hi":-312},
{"p":"D","g":"affected","x":92,"m":-371,"lo":-406,"hi":-336},
{"p":"D","g":"affected","x":93,"m":-372,"lo":-407,"hi":-337},
{"p":"D","g":"affected","x":94,"m":-368,"lo":-402,"hi":-334},
{"p":"D","g":"affected","x":96,"m":-344,"lo":-376,"hi":-312},
{"p":"D","g":"affected","x":98,"m":-317,"lo":-346,"hi":-288},
{"p":"D","g":"affected","x":100,"m":-283,"lo":-312,"hi":-254}
]
},
"concat": [
{
"width": 1472.2, "height": 1602.1,
"layer": [
{"data":{"name":"peaks"},"mark":{"type":"rect","opacity":0.08},
 "encoding":{
  "x":{"field":"lo","type":"quantitative","scale":{"domain":[0,100],"nice":false,"zero":false},"axis":null},
  "x2":{"field":"hi"},
  "y":{"datum":12.5,"type":"quantitative","scale":{"domain":[-40.2,38.7],"nice":false,"zero":false},
       "axis":{"values":[-20,-10,0,10],"domain":false,"title":["ankle joint angle","[°]"],"titleX":-340.1,"titleY":952.7,"titleAngle":-90,"titleAlign":"center","titleBaseline":"alphabetic","titleLineHeight":99.5,"labelExpr":"''+datum.value"}},
  "y2":{"datum":-40.2},
  "fill":{"field":"g","type":"nominal","scale":{"domain":["affected","unaffected"],"range":["#ff0000","#000000"]},"legend":null}}},
{"data":{"name":"peaks"},"mark":{"type":"rule","strokeWidth":4.7,"strokeDash":[12.3,15.2]},
 "encoding":{"x":{"field":"m","type":"quantitative","axis":null},"y":{"datum":12.5,"type":"quantitative"},"y2":{"datum":-40.2},
  "stroke":{"field":"g","type":"nominal","scale":{"domain":["affected","unaffected"],"range":["#f29c9c","#9e9e9e"]},"legend":null}}},
{"data":{"name":"c"},"transform":[{"filter":"datum.p=='A'&&datum.g=='unaffected'"}],"mark":{"type":"area","fill":"#000000","fillOpacity":0.15},
 "encoding":{"x":{"field":"x","type":"quantitative","axis":null},"y":{"field":"lo","type":"quantitative"},"y2":{"field":"hi"}}},
{"data":{"name":"c"},"transform":[{"filter":"datum.p=='A'&&datum.g=='unaffected'"}],"mark":{"type":"line","strokeWidth":8.5},
 "encoding":{"x":{"field":"x","type":"quantitative","axis":null},"y":{"field":"m","type":"quantitative"},
  "color":{"field":"g","type":"nominal","scale":{"domain":["unaffected","affected"],"range":["#000000","#ff0000"]},
   "legend":{"title":null,"orient":"none","legendX":1108.3,"legendY":3077,"direction":"horizontal","symbolType":"M-5,0H5","symbolSize":2140,"symbolStrokeWidth":18,"labelFontSize":82.5,"labelLimit":1000,"labelOffset":109.1,"columnPadding":244.5,"padding":0,"labelColor":"#000000","labelFont":"Liberation Sans","symbolOpacity":1}}}},
{"data":{"name":"c"},"transform":[{"filter":"datum.p=='A'&&datum.g=='affected'"}],"mark":{"type":"area","fill":"#ff0000","fillOpacity":0.18},
 "encoding":{"x":{"field":"x","type":"quantitative","axis":null},"y":{"field":"lo","type":"quantitative"},"y2":{"field":"hi"}}},
{"data":{"name":"c"},"transform":[{"filter":"datum.p=='A'&&datum.g=='affected'"}],"mark":{"type":"line","strokeWidth":8.5},
 "encoding":{"x":{"field":"x","type":"quantitative","axis":null},"y":{"field":"m","type":"quantitative"},
  "color":{"field":"g","type":"nominal","scale":{"domain":["unaffected","affected"],"range":["#000000","#ff0000"]},
   "legend":{"title":null,"orient":"none","legendX":1108.3,"legendY":3077,"direction":"horizontal","symbolType":"M-5,0H5","symbolSize":2140,"symbolStrokeWidth":18,"labelFontSize":82.5,"labelLimit":1000,"labelOffset":109.1,"columnPadding":244.5,"padding":0,"labelColor":"#000000","labelFont":"Liberation Sans","symbolOpacity":1}}}},
{"data":{"values":[{}]},"mark":{"type":"rule","color":"#000000","strokeWidth":5.2},
 "encoding":{"x":{"datum":0,"type":"quantitative","axis":null},"y":{"datum":-28.1,"type":"quantitative"},"y2":{"datum":12.06}}},
{"data":{"name":"br"},"transform":[{"filter":"datum.p=='A'"}],"mark":{"type":"line","color":"#000000","strokeWidth":5.7,"strokeJoin":"miter"},
 "encoding":{"x":{"field":"x","type":"quantitative","axis":null},"y":{"field":"y","type":"quantitative"},"detail":{"field":"b"},"order":{"field":"i"}}},
{"data":{"name":"t"},"transform":[{"filter":"datum.p=='A'&&datum.k=='dot'"}],"mark":{"type":"circle","fill":"#000000","stroke":"#555555","strokeWidth":3.8,"size":1559,"opacity":1},
 "encoding":{"x":{"field":"x","type":"quantitative","axis":null},"y":{"field":"y","type":"quantitative"}}},
{"data":{"name":"t"},"transform":[{"filter":"datum.p=='A'&&datum.k=='see'"}],"mark":{"type":"text","fontSize":56.9,"align":"center","baseline":"alphabetic"},
 "encoding":{"x":{"field":"x","type":"quantitative","axis":null},"y":{"field":"y","type":"quantitative"},"text":{"field":"t"}}},
{"data":{"name":"t"},"transform":[{"filter":"datum.p=='A'&&datum.k=='phase'"}],"mark":{"type":"text","fontSize":60.7,"align":"center","baseline":"alphabetic"},
 "encoding":{"x":{"field":"x","type":"quantitative","axis":null},"y":{"field":"y","type":"quantitative"},"text":{"field":"t"}}},
{"data":{"name":"t"},"transform":[{"filter":"datum.p=='A'&&datum.k=='peak'"}],"mark":{"type":"text","fontSize":57.8,"align":"center","baseline":"alphabetic"},
 "encoding":{"x":{"field":"x","type":"quantitative","axis":null},"y":{"field":"y","type":"quantitative"},"text":{"field":"t"}}},
{"data":{"name":"t"},"transform":[{"filter":"datum.p=='A'&&datum.k=='l'"}],"mark":{"type":"text","fontSize":55,"fontStyle":"italic","align":"left","baseline":"alphabetic"},
 "encoding":{"x":{"field":"x","type":"quantitative","axis":null},"y":{"field":"y","type":"quantitative"},"text":{"field":"t"}}},
{"data":{"name":"t"},"transform":[{"filter":"datum.p=='A'&&datum.k=='sub'"}],"mark":{"type":"text","fontSize":42.7,"fontStyle":"italic","align":"left","baseline":"alphabetic"},
 "encoding":{"x":{"field":"x","type":"quantitative","axis":null},"y":{"field":"y","type":"quantitative"},"text":{"field":"t"}}},
{"data":{"name":"t"},"transform":[{"filter":"datum.p=='A'&&datum.k=='ns'"}],"mark":{"type":"text","fontSize":81.5,"align":"center","baseline":"alphabetic"},
 "encoding":{"x":{"field":"x","type":"quantitative","axis":null},"y":{"field":"y","type":"quantitative"},"text":{"field":"t"}}},
{"data":{"name":"t"},"transform":[{"filter":"datum.p=='A'&&datum.k=='star'"}],"mark":{"type":"text","fontSize":94.8,"fontWeight":"bold","align":"center","baseline":"alphabetic"},
 "encoding":{"x":{"field":"x","type":"quantitative","axis":null},"y":{"field":"y","type":"quantitative"},"text":{"field":"t"}}},
{"data":{"name":"t"},"transform":[{"filter":"datum.p=='A'&&datum.k=='dir'"}],"mark":{"type":"text","fontSize":63.5,"align":"left","baseline":"alphabetic"},
 "encoding":{"x":{"field":"x","type":"quantitative","axis":null},"y":{"field":"y","type":"quantitative"},"text":{"field":"t"}}},
{"data":{"name":"t"},"transform":[{"filter":"datum.p=='A'&&datum.k=='letter'"}],"mark":{"type":"text","fontSize":51.2,"fontWeight":"bold","align":"left","baseline":"alphabetic"},
 "encoding":{"x":{"field":"x","type":"quantitative","axis":null},"y":{"field":"y","type":"quantitative"},"text":{"field":"t"}}}
]
},
{
"width": 1477.0, "height": 1602.1,
"layer": [
{"data":{"name":"peaks"},"mark":{"type":"rect","opacity":0.08},
 "encoding":{
  "x":{"field":"lo","type":"quantitative","scale":{"domain":[0,100],"nice":false,"zero":false},"axis":null},
  "x2":{"field":"hi"},
  "y":{"datum":141.6,"type":"quantitative","scale":{"domain":[-586.7,493.9],"nice":false,"zero":false},
       "axis":{"values":[-400,-300,-200,-100,0,100],"domain":false,"title":["ankle joint angular","velocity [°· s⁻¹]"],"titleX":-348.9,"titleY":951.8,"titleAngle":-90,"titleAlign":"center","titleBaseline":"alphabetic","titleLineHeight":118.5,"labelExpr":"''+datum.value"}},
  "y2":{"datum":-586.7},
  "fill":{"field":"g","type":"nominal","scale":{"domain":["affected","unaffected"],"range":["#ff0000","#000000"]},"legend":null}}},
{"data":{"name":"peaks"},"mark":{"type":"rule","strokeWidth":4.7,"strokeDash":[12.3,15.2]},
 "encoding":{"x":{"field":"m","type":"quantitative","axis":null},"y":{"datum":141.6,"type":"quantitative"},"y2":{"datum":-586.7},
  "stroke":{"field":"g","type":"nominal","scale":{"domain":["affected","unaffected"],"range":["#f29c9c","#9e9e9e"]},"legend":null}}},
{"data":{"name":"c"},"transform":[{"filter":"datum.p=='B'&&datum.g=='unaffected'"}],"mark":{"type":"area","fill":"#000000","fillOpacity":0.15},
 "encoding":{"x":{"field":"x","type":"quantitative","axis":null},"y":{"field":"lo","type":"quantitative"},"y2":{"field":"hi"}}},
{"data":{"name":"c"},"transform":[{"filter":"datum.p=='B'&&datum.g=='unaffected'"}],"mark":{"type":"line","strokeWidth":8.5},
 "encoding":{"x":{"field":"x","type":"quantitative","axis":null},"y":{"field":"m","type":"quantitative"},
  "color":{"field":"g","type":"nominal","scale":{"domain":["unaffected","affected"],"range":["#000000","#ff0000"]},
   "legend":{"title":null,"orient":"none","legendX":1108.3,"legendY":3077,"direction":"horizontal","symbolType":"M-5,0H5","symbolSize":2140,"symbolStrokeWidth":18,"labelFontSize":82.5,"labelLimit":1000,"labelOffset":109.1,"columnPadding":244.5,"padding":0,"labelColor":"#000000","labelFont":"Liberation Sans","symbolOpacity":1}}}},
{"data":{"name":"c"},"transform":[{"filter":"datum.p=='B'&&datum.g=='affected'"}],"mark":{"type":"area","fill":"#ff0000","fillOpacity":0.18},
 "encoding":{"x":{"field":"x","type":"quantitative","axis":null},"y":{"field":"lo","type":"quantitative"},"y2":{"field":"hi"}}},
{"data":{"name":"c"},"transform":[{"filter":"datum.p=='B'&&datum.g=='affected'"}],"mark":{"type":"line","strokeWidth":8.5},
 "encoding":{"x":{"field":"x","type":"quantitative","axis":null},"y":{"field":"m","type":"quantitative"},
  "color":{"field":"g","type":"nominal","scale":{"domain":["unaffected","affected"],"range":["#000000","#ff0000"]},
   "legend":{"title":null,"orient":"none","legendX":1108.3,"legendY":3077,"direction":"horizontal","symbolType":"M-5,0H5","symbolSize":2140,"symbolStrokeWidth":18,"labelFontSize":82.5,"labelLimit":1000,"labelOffset":109.1,"columnPadding":244.5,"padding":0,"labelColor":"#000000","labelFont":"Liberation Sans","symbolOpacity":1}}}},
{"data":{"values":[{}]},"mark":{"type":"rule","color":"#000000","strokeWidth":5.2},
 "encoding":{"x":{"datum":0,"type":"quantitative","axis":null},"y":{"datum":-421,"type":"quantitative"},"y2":{"datum":132}}},
{"data":{"name":"br"},"transform":[{"filter":"datum.p=='B'"}],"mark":{"type":"line","color":"#000000","strokeWidth":5.7,"strokeJoin":"miter"},
 "encoding":{"x":{"field":"x","type":"quantitative","axis":null},"y":{"field":"y","type":"quantitative"},"detail":{"field":"b"},"order":{"field":"i"}}},
{"data":{"name":"t"},"transform":[{"filter":"datum.p=='B'&&datum.k=='dot'"}],"mark":{"type":"circle","fill":"#000000","stroke":"#555555","strokeWidth":3.8,"size":1559,"opacity":1},
 "encoding":{"x":{"field":"x","type":"quantitative","axis":null},"y":{"field":"y","type":"quantitative"}}},
{"data":{"name":"t"},"transform":[{"filter":"datum.p=='B'&&datum.k=='see'"}],"mark":{"type":"text","fontSize":56.9,"align":"center","baseline":"alphabetic"},
 "encoding":{"x":{"field":"x","type":"quantitative","axis":null},"y":{"field":"y","type":"quantitative"},"text":{"field":"t"}}},
{"data":{"name":"t"},"transform":[{"filter":"datum.p=='B'&&datum.k=='phase'"}],"mark":{"type":"text","fontSize":60.7,"align":"center","baseline":"alphabetic"},
 "encoding":{"x":{"field":"x","type":"quantitative","axis":null},"y":{"field":"y","type":"quantitative"},"text":{"field":"t"}}},
{"data":{"name":"t"},"transform":[{"filter":"datum.p=='B'&&datum.k=='peak'"}],"mark":{"type":"text","fontSize":57.8,"align":"center","baseline":"alphabetic"},
 "encoding":{"x":{"field":"x","type":"quantitative","axis":null},"y":{"field":"y","type":"quantitative"},"text":{"field":"t"}}},
{"data":{"name":"t"},"transform":[{"filter":"datum.p=='B'&&datum.k=='l'"}],"mark":{"type":"text","fontSize":55,"fontStyle":"italic","align":"left","baseline":"alphabetic"},
 "encoding":{"x":{"field":"x","type":"quantitative","axis":null},"y":{"field":"y","type":"quantitative"},"text":{"field":"t"}}},
{"data":{"name":"t"},"transform":[{"filter":"datum.p=='B'&&datum.k=='sub'"}],"mark":{"type":"text","fontSize":42.7,"fontStyle":"italic","align":"left","baseline":"alphabetic"},
 "encoding":{"x":{"field":"x","type":"quantitative","axis":null},"y":{"field":"y","type":"quantitative"},"text":{"field":"t"}}},
{"data":{"name":"t"},"transform":[{"filter":"datum.p=='B'&&datum.k=='ns'"}],"mark":{"type":"text","fontSize":81.5,"align":"center","baseline":"alphabetic"},
 "encoding":{"x":{"field":"x","type":"quantitative","axis":null},"y":{"field":"y","type":"quantitative"},"text":{"field":"t"}}},
{"data":{"name":"t"},"transform":[{"filter":"datum.p=='B'&&datum.k=='star'"}],"mark":{"type":"text","fontSize":94.8,"fontWeight":"bold","align":"center","baseline":"alphabetic"},
 "encoding":{"x":{"field":"x","type":"quantitative","axis":null},"y":{"field":"y","type":"quantitative"},"text":{"field":"t"}}},
{"data":{"name":"t"},"transform":[{"filter":"datum.p=='B'&&datum.k=='letter'"}],"mark":{"type":"text","fontSize":51.2,"fontWeight":"bold","align":"left","baseline":"alphabetic"},
 "encoding":{"x":{"field":"x","type":"quantitative","axis":null},"y":{"field":"y","type":"quantitative"},"text":{"field":"t"}}}
]
},
{
"width": 1472.2, "height": 1109.2,
"layer": [
{"data":{"name":"peaks"},"mark":{"type":"rect","opacity":0.08},
 "encoding":{
  "x":{"field":"lo","type":"quantitative","scale":{"domain":[0,100],"nice":false,"zero":false},
       "axis":{"values":[20,40,60,80,100],"offset":-84.4,"title":"stance [%]","titleX":747,"titleY":274.9,"titleBaseline":"alphabetic","labelExpr":"''+datum.value"}},
  "x2":{"field":"hi"},
  "y":{"datum":54.3,"type":"quantitative","scale":{"domain":[-5.15,62.56],"nice":false,"zero":false},
       "axis":{"values":[0,10,20,30,40,50],"domain":false,"title":["knee joint angle","[°]"],"titleX":-325.2,"titleY":547,"titleAngle":-90,"titleAlign":"center","titleBaseline":"alphabetic","titleLineHeight":101.4,"labelExpr":"''+datum.value"}},
  "y2":{"datum":0},
  "fill":{"field":"g","type":"nominal","scale":{"domain":["affected","unaffected"],"range":["#ff0000","#000000"]},"legend":null}}},
{"data":{"name":"peaks"},"mark":{"type":"rule","strokeWidth":4.7,"strokeDash":[12.3,15.2]},
 "encoding":{"x":{"field":"m","type":"quantitative"},"y":{"datum":54.3,"type":"quantitative"},"y2":{"datum":0},
  "stroke":{"field":"g","type":"nominal","scale":{"domain":["affected","unaffected"],"range":["#f29c9c","#9e9e9e"]},"legend":null}}},
{"data":{"name":"c"},"transform":[{"filter":"datum.p=='C'&&datum.g=='unaffected'"}],"mark":{"type":"area","fill":"#000000","fillOpacity":0.15},
 "encoding":{"x":{"field":"x","type":"quantitative"},"y":{"field":"lo","type":"quantitative"},"y2":{"field":"hi"}}},
{"data":{"name":"c"},"transform":[{"filter":"datum.p=='C'&&datum.g=='unaffected'"}],"mark":{"type":"line","strokeWidth":8.5},
 "encoding":{"x":{"field":"x","type":"quantitative"},"y":{"field":"m","type":"quantitative"},
  "color":{"field":"g","type":"nominal","scale":{"domain":["unaffected","affected"],"range":["#000000","#ff0000"]},
   "legend":{"title":null,"orient":"none","legendX":1108.3,"legendY":3077,"direction":"horizontal","symbolType":"M-5,0H5","symbolSize":2140,"symbolStrokeWidth":18,"labelFontSize":82.5,"labelLimit":1000,"labelOffset":109.1,"columnPadding":244.5,"padding":0,"labelColor":"#000000","labelFont":"Liberation Sans","symbolOpacity":1}}}},
{"data":{"name":"c"},"transform":[{"filter":"datum.p=='C'&&datum.g=='affected'"}],"mark":{"type":"area","fill":"#ff0000","fillOpacity":0.18},
 "encoding":{"x":{"field":"x","type":"quantitative"},"y":{"field":"lo","type":"quantitative"},"y2":{"field":"hi"}}},
{"data":{"name":"c"},"transform":[{"filter":"datum.p=='C'&&datum.g=='affected'"}],"mark":{"type":"line","strokeWidth":8.5},
 "encoding":{"x":{"field":"x","type":"quantitative"},"y":{"field":"m","type":"quantitative"},
  "color":{"field":"g","type":"nominal","scale":{"domain":["unaffected","affected"],"range":["#000000","#ff0000"]},
   "legend":{"title":null,"orient":"none","legendX":1108.3,"legendY":3077,"direction":"horizontal","symbolType":"M-5,0H5","symbolSize":2140,"symbolStrokeWidth":18,"labelFontSize":82.5,"labelLimit":1000,"labelOffset":109.1,"columnPadding":244.5,"padding":0,"labelColor":"#000000","labelFont":"Liberation Sans","symbolOpacity":1}}}},
{"data":{"values":[{}]},"mark":{"type":"rule","color":"#000000","strokeWidth":5.2},
 "encoding":{"x":{"datum":0,"type":"quantitative"},"y":{"datum":-5.15,"type":"quantitative"},"y2":{"datum":55.2}}},
{"data":{"name":"t"},"transform":[{"filter":"datum.p=='C'&&datum.k=='ns'"}],"mark":{"type":"text","fontSize":81.5,"align":"center","baseline":"alphabetic"},
 "encoding":{"x":{"field":"x","type":"quantitative"},"y":{"field":"y","type":"quantitative"},"text":{"field":"t"}}},
{"data":{"name":"t"},"transform":[{"filter":"datum.p=='C'&&datum.k=='letter'"}],"mark":{"type":"text","fontSize":51.2,"fontWeight":"bold","align":"left","baseline":"alphabetic"},
 "encoding":{"x":{"field":"x","type":"quantitative"},"y":{"field":"y","type":"quantitative"},"text":{"field":"t"}}}
]
},
{
"width": 1477.0, "height": 1109.2,
"layer": [
{"data":{"name":"peaks"},"mark":{"type":"rect","opacity":0.08},
 "encoding":{
  "x":{"field":"lo","type":"quantitative","scale":{"domain":[0,100],"nice":false,"zero":false},
       "axis":{"values":[20,40,60,80,100],"offset":-79.6,"title":"stance [%]","titleX":753.7,"titleY":271.1,"titleBaseline":"alphabetic","labelExpr":"''+datum.value"}},
  "x2":{"field":"hi"},
  "y":{"datum":134.5,"type":"quantitative","scale":{"domain":[-425.6,215.4],"nice":false,"zero":false},
       "axis":{"values":[-400,-300,-200,-100,0,100],"domain":false,"title":["knee joint angular","velocity [°· s⁻¹]"],"titleX":-351.7,"titleY":611.5,"titleAngle":-90,"titleAlign":"center","titleBaseline":"alphabetic","titleLineHeight":120.4,"labelExpr":"''+datum.value"}},
  "y2":{"datum":-379.4},
  "fill":{"field":"g","type":"nominal","scale":{"domain":["affected","unaffected"],"range":["#ff0000","#000000"]},"legend":null}}},
{"data":{"name":"peaks"},"mark":{"type":"rule","strokeWidth":4.7,"strokeDash":[12.3,15.2]},
 "encoding":{"x":{"field":"m","type":"quantitative"},"y":{"datum":134.5,"type":"quantitative"},"y2":{"datum":-379.4},
  "stroke":{"field":"g","type":"nominal","scale":{"domain":["affected","unaffected"],"range":["#f29c9c","#9e9e9e"]},"legend":null}}},
{"data":{"name":"c"},"transform":[{"filter":"datum.p=='D'&&datum.g=='unaffected'"}],"mark":{"type":"area","fill":"#000000","fillOpacity":0.15},
 "encoding":{"x":{"field":"x","type":"quantitative"},"y":{"field":"lo","type":"quantitative"},"y2":{"field":"hi"}}},
{"data":{"name":"c"},"transform":[{"filter":"datum.p=='D'&&datum.g=='unaffected'"}],"mark":{"type":"line","strokeWidth":8.5},
 "encoding":{"x":{"field":"x","type":"quantitative"},"y":{"field":"m","type":"quantitative"},
  "color":{"field":"g","type":"nominal","scale":{"domain":["unaffected","affected"],"range":["#000000","#ff0000"]},
   "legend":{"title":null,"orient":"none","legendX":1108.3,"legendY":3077,"direction":"horizontal","symbolType":"M-5,0H5","symbolSize":2140,"symbolStrokeWidth":18,"labelFontSize":82.5,"labelLimit":1000,"labelOffset":109.1,"columnPadding":244.5,"padding":0,"labelColor":"#000000","labelFont":"Liberation Sans","symbolOpacity":1}}}},
{"data":{"name":"c"},"transform":[{"filter":"datum.p=='D'&&datum.g=='affected'"}],"mark":{"type":"area","fill":"#ff0000","fillOpacity":0.18},
 "encoding":{"x":{"field":"x","type":"quantitative"},"y":{"field":"lo","type":"quantitative"},"y2":{"field":"hi"}}},
{"data":{"name":"c"},"transform":[{"filter":"datum.p=='D'&&datum.g=='affected'"}],"mark":{"type":"line","strokeWidth":8.5},
 "encoding":{"x":{"field":"x","type":"quantitative"},"y":{"field":"m","type":"quantitative"},
  "color":{"field":"g","type":"nominal","scale":{"domain":["unaffected","affected"],"range":["#000000","#ff0000"]},
   "legend":{"title":null,"orient":"none","legendX":1108.3,"legendY":3077,"direction":"horizontal","symbolType":"M-5,0H5","symbolSize":2140,"symbolStrokeWidth":18,"labelFontSize":82.5,"labelLimit":1000,"labelOffset":109.1,"columnPadding":244.5,"padding":0,"labelColor":"#000000","labelFont":"Liberation Sans","symbolOpacity":1}}}},
{"data":{"values":[{}]},"mark":{"type":"rule","color":"#000000","strokeWidth":5.2},
 "encoding":{"x":{"datum":0,"type":"quantitative"},"y":{"datum":-420.5,"type":"quantitative"},"y2":{"datum":151.5}}},
{"data":{"name":"t"},"transform":[{"filter":"datum.p=='D'&&datum.k=='ns'"}],"mark":{"type":"text","fontSize":81.5,"align":"center","baseline":"alphabetic"},
 "encoding":{"x":{"field":"x","type":"quantitative"},"y":{"field":"y","type":"quantitative"},"text":{"field":"t"}}},
{"data":{"name":"t"},"transform":[{"filter":"datum.p=='D'&&datum.k=='letter'"}],"mark":{"type":"text","fontSize":51.2,"fontWeight":"bold","align":"left","baseline":"alphabetic"},
 "encoding":{"x":{"field":"x","type":"quantitative"},"y":{"field":"y","type":"quantitative"},"text":{"field":"t"}}}
]
}
],
"config": {
 "font": "Liberation Sans",
 "view": {"stroke": null},
 "axis": {"grid": false, "domainColor": "#000000", "domainWidth": 5.2, "tickColor": "#000000", "tickWidth": 5.2, "tickSize": 26.5,
   "labelFont": "Liberation Sans", "labelFontSize": 71.1, "labelColor": "#000000", "labelPadding": 14.2,
   "titleFont": "Liberation Sans", "titleFontSize": 81.5, "titleColor": "#000000", "titleFontWeight": "normal"},
 "axisX": {"labelPadding": 21.8},
 "text": {"color": "#000000"}
}
}
